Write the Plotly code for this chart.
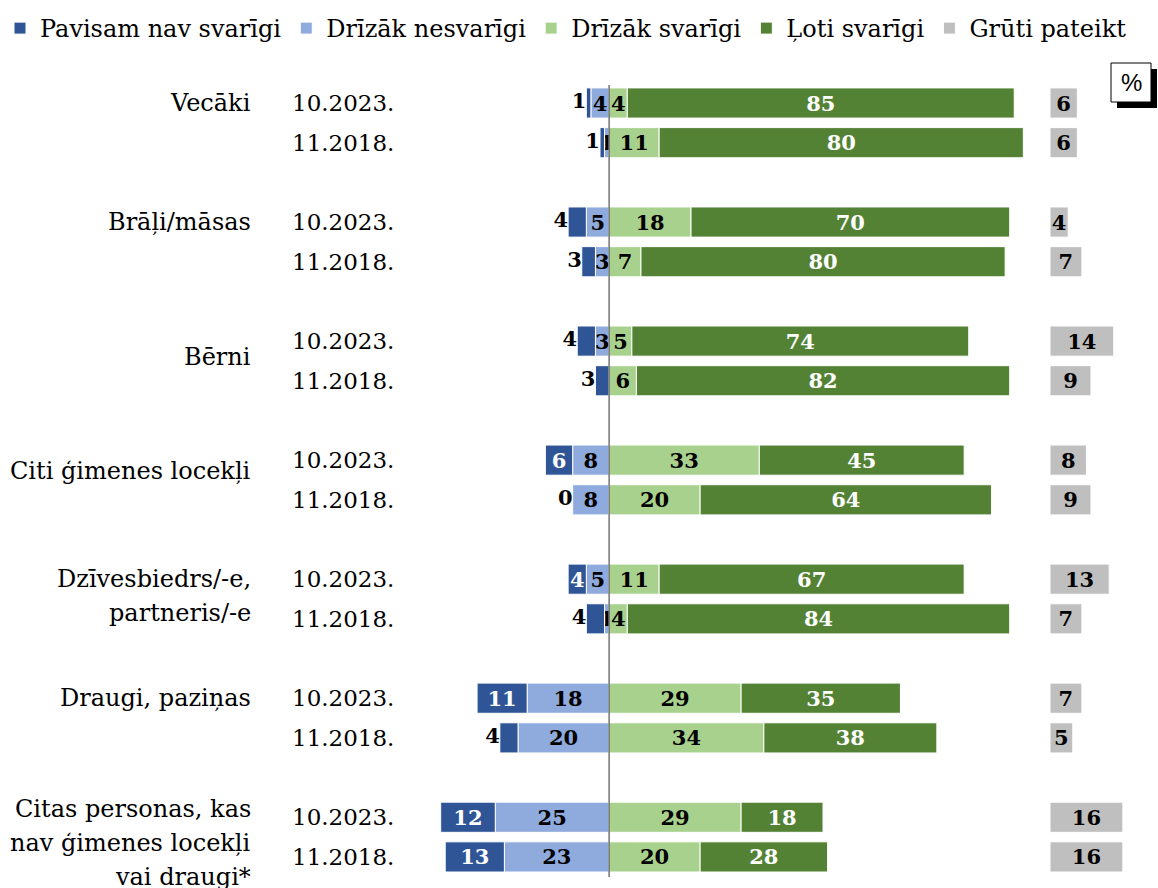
import plotly.graph_objects as go

# survey categories (top to bottom), each with two survey waves
categories = [
    "Vecāki",
    "Brāļi/māsas",
    "Bērni",
    "Citi ģimenes locekļi",
    "Dzīvesbiedrs/-e,<br>partneris/-e",
    "Draugi, paziņas",
    "Citas personas, kas<br>nav ģimenes locekļi<br>vai draugi*",
]
periods = ["10.2023.", "11.2018."]

# values in %, rows ordered: cat1 2023, cat1 2018, cat2 2023, ...
not_important = [1, 1, 4, 3, 4, 3, 6, 0, 4, 4, 11, 4, 12, 13]
rather_not = [4, 1, 5, 3, 3, 0, 8, 8, 5, 1, 18, 20, 25, 23]
rather_yes = [4, 11, 18, 7, 5, 6, 33, 20, 11, 4, 29, 34, 29, 20]
very_important = [85, 80, 70, 80, 74, 82, 45, 64, 67, 84, 35, 38, 18, 28]
hard_to_say = [6, 6, 4, 7, 14, 9, 8, 9, 13, 7, 7, 5, 16, 16]

series_names = ["Pavisam nav svarīgi", "Drīzāk nesvarīgi", "Drīzāk svarīgi",
                "Ļoti svarīgi", "Grūti pateikt"]

# which dark-blue labels sit outside the bar (label placement, as in the original)
blue_outside = [True, True, True, True, True, True, False, True,
                False, True, False, True, False, False]
# vertical shift of group labels (in rows) and line spacing in px
label_shift = [0, 0, 0.4, 0.27, 0.42, 0, 0.65]
line_px = 34

W, H = 1158, 888
SERIF = "DejaVu Serif"
C_DBLUE, C_LBLUE, C_LGREEN, C_DGREEN, C_GRAY = "#2F5597", "#8FAADC", "#A9D18E", "#548235", "#BFBFBF"

n = len(not_important)
pos = [(i // 2) * 3 + (i % 2) for i in range(n)]


def lbl(v):
    return [str(x) if x != 0 else "" for x in v]


bar_kw = dict(orientation="h", width=0.76, textposition="inside", textangle=0,
              constraintext="none", insidetextanchor="middle",
              marker_line=dict(color="white", width=1), hoverinfo="skip")
bold = dict(family=SERIF, size=21, weight="bold")

fig = go.Figure()
# light blue first so it sits next to zero
fig.add_trace(go.Bar(y=pos, x=[-v for v in rather_not], name=series_names[1],
                     marker_color=C_LBLUE, text=lbl(rather_not), legendrank=2,
                     textfont=dict(bold, color="black"), **bar_kw))
fig.add_trace(go.Bar(y=pos, x=[-v for v in not_important], name=series_names[0],
                     marker_color=C_DBLUE, legendrank=1,
                     text=["" if o else str(v) for v, o in zip(not_important, blue_outside)],
                     textfont=dict(bold, color="white"), **bar_kw))
fig.add_trace(go.Bar(y=pos, x=rather_yes, name=series_names[2],
                     marker_color=C_LGREEN, text=lbl(rather_yes), legendrank=3,
                     textfont=dict(bold, color="black"), **bar_kw))
fig.add_trace(go.Bar(y=pos, x=very_important, name=series_names[3],
                     marker_color=C_DGREEN, text=lbl(very_important), legendrank=4,
                     textfont=dict(bold, color="white"), **bar_kw))
fig.add_trace(go.Bar(y=pos, x=hard_to_say, name=series_names[4], xaxis="x2",
                     marker_color=C_GRAY, text=lbl(hard_to_say), legendrank=5,
                     textfont=dict(bold, color="black"), **bar_kw))

# small dark-blue values written outside the bar end
out_idx = [i for i in range(n) if blue_outside[i]]
fig.add_trace(go.Scatter(
    x=[-(not_important[i] + rather_not[i]) for i in out_idx],
    y=[pos[i] for i in out_idx],
    text=[str(not_important[i]) for i in out_idx],
    mode="text", textposition="middle left", showlegend=False, hoverinfo="skip",
    textfont=dict(bold, color="black"), cliponaxis=False))

# group names and survey dates
for g, cat in enumerate(categories):
    lines = cat.split("<br>")
    for k, line in enumerate(lines):
        fig.add_annotation(xref="paper", x=253 / W, xanchor="right",
                           y=g * 3 + label_shift[g], yref="y", yanchor="middle",
                           yshift=-(k - (len(lines) - 1) / 2) * line_px,
                           text=line, showarrow=False,
                           font=dict(family=SERIF, size=24, color="black"))
    for r, p in enumerate(periods):
        fig.add_annotation(xref="paper", x=290 / W, xanchor="left",
                           y=g * 3 + r, yref="y", yanchor="middle",
                           text=p, showarrow=False,
                           font=dict(family=SERIF, size=23, color="black"))

# "%" box with shadow
fig.add_shape(type="rect", xref="paper", yref="paper",
              x0=1117 / W, x1=1157 / W, y0=1 - 108 / H, y1=1 - 69 / H,
              fillcolor="black", line_width=0)
fig.add_shape(type="rect", xref="paper", yref="paper",
              x0=1111 / W, x1=1151 / W, y0=1 - 102 / H, y1=1 - 63 / H,
              fillcolor="white", line=dict(color="black", width=1))
fig.add_annotation(xref="paper", yref="paper", x=1131 / W, y=1 - 83 / H,
                   xanchor="center", yanchor="middle",
                   text="%", showarrow=False,
                   font=dict(family="Liberation Sans", size=24, color="black"))

# centre line
fig.add_shape(type="line", xref="x", yref="y domain", x0=0, x1=0, y0=0, y1=1,
              line=dict(color="#303030", width=1), layer="above")

fig.update_layout(
    width=W, height=H, barmode="relative",
    margin=dict(l=0, r=0, t=0, b=0),
    plot_bgcolor="white", paper_bgcolor="white",
    font=dict(family=SERIF, color="black"),
    xaxis=dict(domain=[427 / W, 1037 / W], range=[-40, 94], visible=False),
    xaxis2=dict(domain=[1050 / W, 1157 / W], range=[0, 23.5], visible=False, anchor="y"),
    yaxis=dict(domain=[1 - 877 / H, 1 - 85 / H], range=[19.506, -0.4536], visible=False),
    legend=dict(orientation="h", x=0, y=1 - 6 / H, yanchor="top", xanchor="left",
                font=dict(family=SERIF, size=24), traceorder="normal"),
    showlegend=True,
)

fig.write_html("out.html", config={"displayModeBar": False},
               post_script="document.body.style.margin='0';")
